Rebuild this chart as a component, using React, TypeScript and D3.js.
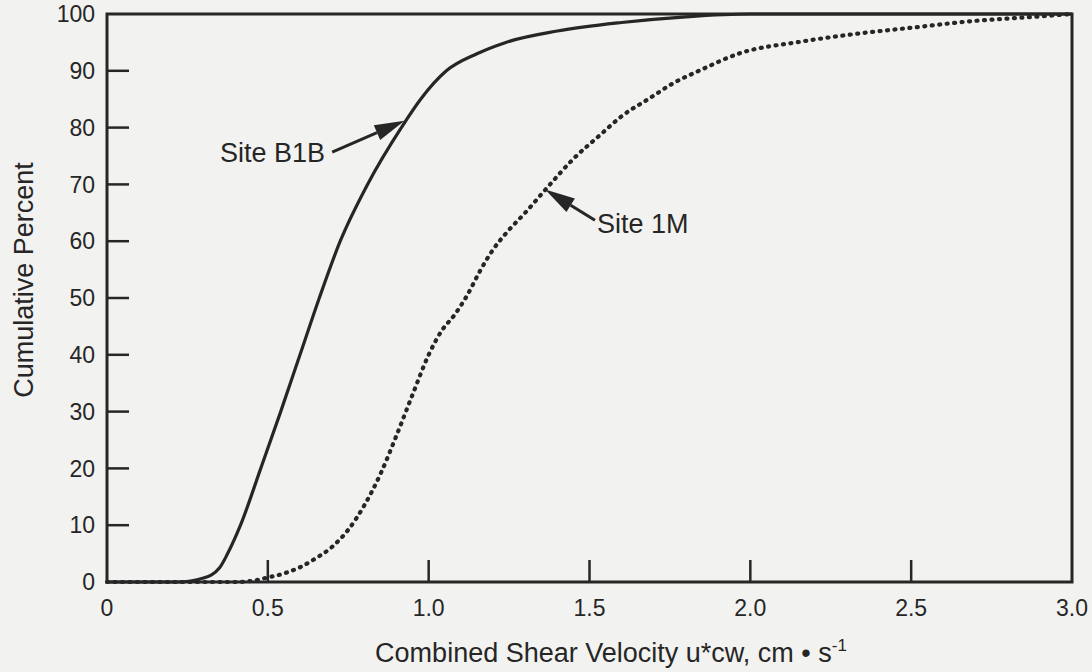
import * as d3 from "d3";

const b1bX = [0, 0.22, 0.3, 0.35, 0.375, 0.415, 0.478, 0.54, 0.6, 0.66, 0.725, 0.81, 0.915, 0.975, 1.055, 1.15, 1.24, 1.4, 1.6, 1.8, 2.0, 3.0];
const b1bY = [0, 0, 0.7, 2.5, 5, 10, 20, 30, 40, 50, 60, 70, 80, 85, 90, 93, 95, 97, 98.5, 99.5, 100, 100];

const m1X = [0, 0.4, 0.45, 0.5, 0.55, 0.6, 0.65, 0.7, 0.75, 0.8, 0.85, 0.9, 0.95, 1.0, 1.04, 1.08, 1.12, 1.16, 1.2, 1.25, 1.3, 1.368, 1.45, 1.533, 1.6, 1.688, 1.76, 1.844, 1.968, 2.154, 2.3, 2.52, 2.7, 2.83, 3.0];
const m1Y = [0, 0, 0.2, 0.8, 1.5, 2.6, 4.2, 6.2, 9.2, 13.5, 19, 25.8, 33, 40, 44.2, 47, 50.5, 54.8, 58.5, 62, 65, 69.4, 74.5, 78.7, 82, 85.2, 87.8, 90.1, 93.1, 95.1, 96.3, 97.7, 98.8, 99.3, 100];

const xTicks = [0, 0.5, 1.0, 1.5, 2.0, 2.5, 3.0];
const yTicks = [0, 10, 20, 30, 40, 50, 60, 70, 80, 90, 100];

// annotation: label, arrow tail, arrow tip (data units)
const notes = [
  { label: "Site B1B", tail: [0.7, 75.7], tip: [0.925, 81.2], text: [0.678, 73.9], anchor: "end" },
  { label: "Site 1M", tail: [1.517, 63.7], tip: [1.362, 69.1], text: [1.523, 61.4], anchor: "start" },
];

const W = 1092, H = 672;
const left = 107, right = 1072, top = 14, bottom = 582;
const ink = "#262626";
const font = "'Liberation Sans', Arial, Helvetica, sans-serif";

export default function App() {
  const x = d3.scaleLinear().domain([0, 3]).range([left, right]);
  const y = d3.scaleLinear().domain([0, 100]).range([bottom, top]);

  const line = d3.line<[number, number]>()
    .x(d => x(d[0]))
    .y(d => y(d[1]))
    .curve(d3.curveMonotoneX);

  const b1b = b1bX.map((v, i) => [v, b1bY[i]] as [number, number]);
  const m1 = m1X.map((v, i) => [v, m1Y[i]] as [number, number]);

  const arrowHead = (tail: number[], tip: number[]) => {
    const x1 = x(tail[0]), y1 = y(tail[1]), x2 = x(tip[0]), y2 = y(tip[1]);
    const a = Math.atan2(y2 - y1, x2 - x1);
    const len = 30, half = 8;
    const bx = x2 - len * Math.cos(a), by = y2 - len * Math.sin(a);
    const px = -Math.sin(a) * half, py = Math.cos(a) * half;
    return {
      shaft: `M${x1},${y1}L${bx},${by}`,
      head: `M${x2},${y2}L${bx + px},${by + py}L${bx - px},${by - py}Z`,
    };
  };

  return (
    <svg width={W} height={H} style={{ position: "absolute", left: 0, top: 0, background: "#f2f2f0" }}>
      {/* tick marks, pointing inward */}
      <g stroke={ink} strokeWidth={2.5}>
        {yTicks.slice(1, -1).map(t => (
          <line key={t} x1={left} x2={left + 22} y1={y(t)} y2={y(t)} />
        ))}
        {xTicks.slice(1, -1).map(t => (
          <line key={t} x1={x(t)} x2={x(t)} y1={bottom} y2={bottom - 22} />
        ))}
      </g>

      {/* tick labels */}
      <g fill={ink} fontFamily={font} fontSize={23}>
        {yTicks.map(t => (
          <text key={t} x={left - 12} y={y(t)} dy="0.36em" textAnchor="end">{t}</text>
        ))}
        {xTicks.map(t => (
          <text key={t} x={x(t)} y={616} textAnchor="middle">{t === 0 ? "0" : t.toFixed(1)}</text>
        ))}
      </g>

      {/* curves */}
      <path d={line(b1b) ?? ""} fill="none" stroke={ink} strokeWidth={3.2} />
      <path d={line(m1) ?? ""} fill="none" stroke={ink} strokeWidth={4.2}
        strokeDasharray="1 6.5" strokeLinecap="round" />

      {/* frame */}
      <rect x={left} y={top} width={right - left} height={bottom - top} fill="none" stroke={ink} strokeWidth={3} />

      {/* annotations */}
      {notes.map(n => {
        const a = arrowHead(n.tail, n.tip);
        return (
          <g key={n.label}>
            <path d={a.shaft} stroke={ink} strokeWidth={3} fill="none" />
            <path d={a.head} fill={ink} />
            <text x={x(n.text[0])} y={y(n.text[1])} textAnchor={n.anchor as any}
              fontFamily={font} fontSize={27} fill={ink}>{n.label}</text>
          </g>
        );
      })}

      {/* axis titles */}
      <text transform="translate(33,280) rotate(-90)" textAnchor="middle"
        fontFamily={font} fontSize={27} fill={ink}>Cumulative Percent</text>
      <text x={611} y={662} textAnchor="middle" fontFamily={font} fontSize={27} fill={ink}>
        Combined Shear Velocity u*cw, cm • s<tspan fontSize={17} dy={-11}>-1</tspan>
      </text>
    </svg>
  );
}
